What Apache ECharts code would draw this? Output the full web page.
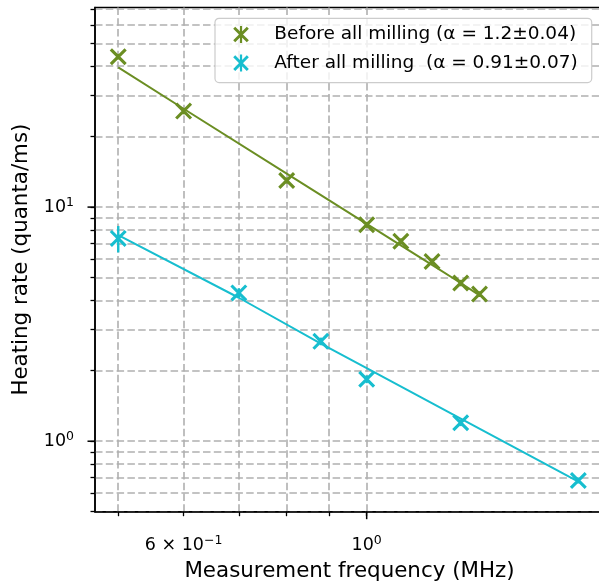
<!DOCTYPE html>
<html><head><meta charset="utf-8">
<script src="https://cdn.jsdelivr.net/npm/echarts@6/dist/echarts.min.js"></script>
<style>html,body{margin:0;padding:0;background:#fff}#c{width:599px;height:582px}</style>
</head><body><div id="c"></div>
<script>
// ---- data ----
const freqBefore = [0.5, 0.6, 0.8, 1.0, 1.1, 1.2, 1.3, 1.37];
const rateBefore = [43.9, 25.7, 13.0, 8.4, 7.15, 5.86, 4.74, 4.25];
const errBefore  = [1.2, 0.8, 0.4, 0.25, 0.2, 0.15, 0.15, 0.12];
const fitBefore  = [39.5, 26.3, 13.9, 8.48, 6.86, 5.66, 4.74, 4.2];

const freqAfter = [0.5, 0.7, 0.88, 1.0, 1.3, 1.805];
const rateAfter = [7.35, 4.3, 2.67, 1.84, 1.2, 0.68];
const errAfter  = [0.95, 0.2, 0.1, 0.07, 0.04, 0.02];
const fitAfter  = [7.59, 4.1, 2.61, 2.05, 1.25, 0.672];

const seriesNames = ['Before all milling (α = 1.2±0.04)', 'After all milling  (α = 0.91±0.07)'];

const xTickValues = [0.5, 0.6, 0.7, 0.8, 0.9, 1.0];
const xMajorTicks = [1.0];
const xLabelValues = [0.6, 1.0];
const xLabelMantissa = ['6 × 10', '10'];
const xLabelExponent = ['−1', '0'];

const yTickValues = [0.5, 0.6, 0.7, 0.8, 0.9, 1, 2, 3, 4, 5, 6, 7, 8, 9, 10, 20, 30, 40, 50, 60, 70];
const yMajorTicks = [1, 10];
const yLabelValues = [1, 10];
const yLabelMantissa = ['10', '10'];
const yLabelExponent = ['0', '1'];

const xMin = 0.4686, xMax = 1.939;
const yMin = 0.5, yMax = 71.2;

// ---- styling ----
const FONT = 'DejaVu Sans';
const colors = ['#6b8e23', '#17becf'];
const xPath = 'path://M0.8,3.2L3.2,0.8L19.2,16.8L16.8,19.2Z M16.8,0.8L19.2,3.2L3.2,19.2L0.8,16.8Z';
const starPath = 'path://M0.8,3.2L3.2,0.8L19.2,16.8L16.8,19.2Z M16.8,0.8L19.2,3.2L3.2,19.2L0.8,16.8Z M8.7,0L11.3,0L11.3,20L8.7,20Z';

function pairs(xs, ys) { return xs.map((x, i) => [x, ys[i]]); }
function errData(xs, ys, es) { return xs.map((x, i) => [x, ys[i] - es[i], ys[i] + es[i]]); }

function labelFmt(values, mant, exp) {
  return function (v) {
    for (let i = 0; i < values.length; i++) {
      if (Math.abs(v - values[i]) < 1e-9) return '{m|' + mant[i] + '}{e|' + exp[i] + '}';
    }
    return '';
  };
}
const rich = {
  m: { fontFamily: FONT, fontSize: 17.5, color: '#000', lineHeight: 22 },
  e: { fontFamily: FONT, fontSize: 12.5, color: '#000', lineHeight: 12, verticalAlign: 'top' }
};

function errSeries(data, color) {
  return {
    type: 'custom', data: data, clip: false, z: 4, silent: true,
    renderItem: function (params, api) {
      const a = api.coord([api.value(0), api.value(1)]);
      const b = api.coord([api.value(0), api.value(2)]);
      return { type: 'line', shape: { x1: a[0], y1: a[1], x2: b[0], y2: b[1] },
               style: { stroke: color, lineWidth: 2.4 } };
    }
  };
}

const option = {
  animation: false,
  backgroundColor: '#fff',
  grid: { left: 95, top: 7.5, right: -5, bottom: 70.3, show: true, borderColor: '#000', borderWidth: 1.5,
          backgroundColor: 'transparent', containLabel: false, outerBoundsMode: 'none' },
  legend: {
    orient: 'vertical', left: 215, top: 18.3,
    padding: [6.2, 14, 9.5, 18.2],
    itemWidth: 56.6, itemHeight: 17, itemGap: 8.6,
    backgroundColor: 'rgba(255,255,255,0.8)', borderColor: '#cccccc', borderWidth: 1.2, borderRadius: 4,
    textStyle: { fontFamily: FONT, fontSize: 18.5, color: '#000', lineHeight: 20 },
    data: [{ name: seriesNames[0], icon: starPath }, { name: seriesNames[1], icon: starPath }]
  },
  xAxis: {
    type: 'log', logBase: 10, min: xMin, max: xMax,
    name: 'Measurement frequency (MHz)', nameLocation: 'middle', nameGap: 49,
    nameTextStyle: { fontFamily: FONT, fontSize: 21.4, color: '#000' },
    axisLine: { show: true, lineStyle: { color: '#000', width: 1.5 } },
    axisTick: { show: true, customValues: xTickValues, length: 4.5, lineStyle: { color: '#000', width: 1.3 } },
    axisLabel: { show: true, customValues: xLabelValues, margin: 23,
                 formatter: labelFmt(xLabelValues, xLabelMantissa, xLabelExponent), rich: rich },
    splitLine: { show: true, lineStyle: { color: '#b0b0b0', width: 1.6, type: [7.5, 3.3] } },
    minorTick: { show: false }, minorSplitLine: { show: false }
  },
  yAxis: {
    type: 'log', logBase: 10, min: yMin, max: yMax,
    name: 'Heating rate (quanta/ms)', nameLocation: 'middle', nameGap: 63.5,
    nameTextStyle: { fontFamily: FONT, fontSize: 21.4, color: '#000' },
    axisLine: { show: true, lineStyle: { color: '#000', width: 1.5 } },
    axisTick: { show: true, customValues: yTickValues, length: 4.5, lineStyle: { color: '#000', width: 1.3 } },
    axisLabel: { show: true, customValues: yLabelValues, margin: 21,
                 formatter: labelFmt(yLabelValues, yLabelMantissa, yLabelExponent), rich: rich },
    splitLine: { show: true, lineStyle: { color: '#b0b0b0', width: 1.6, type: [7.5, 3.3] } },
    minorTick: { show: false }, minorSplitLine: { show: false }
  },
  series: [
    { type: 'line', data: pairs(freqBefore, fitBefore), showSymbol: false, symbol: 'none',
      lineStyle: { color: colors[0], width: 2 }, z: 3, silent: true },
    { type: 'line', data: pairs(freqAfter, fitAfter), showSymbol: false, symbol: 'none',
      lineStyle: { color: colors[1], width: 2 }, z: 3, silent: true },
    errSeries(errData(freqBefore, rateBefore, errBefore), colors[0]),
    errSeries(errData(freqAfter, rateAfter, errAfter), colors[1]),
    { name: seriesNames[0], type: 'scatter', data: pairs(freqBefore, rateBefore), symbol: xPath, symbolSize: 17,
      itemStyle: { color: colors[0], opacity: 1 }, z: 5 },
    { name: seriesNames[1], type: 'scatter', data: pairs(freqAfter, rateAfter), symbol: xPath, symbolSize: 17,
      itemStyle: { color: colors[1], opacity: 1 }, z: 5 },
    { type: 'custom', clip: false, z: 6, silent: true, data: xMajorTicks.map(v => [v, yMin]),
      renderItem: function (params, api) {
        const p = api.coord([api.value(0), api.value(1)]);
        return { type: 'line', shape: { x1: p[0], y1: p[1], x2: p[0], y2: p[1] + 7.5 },
                 style: { stroke: '#000', lineWidth: 1.5 } };
      } },
    { type: 'custom', clip: false, z: 6, silent: true, data: yMajorTicks.map(v => [xMin, v]),
      renderItem: function (params, api) {
        const p = api.coord([api.value(0), api.value(1)]);
        return { type: 'line', shape: { x1: p[0], y1: p[1], x2: p[0] - 7.5, y2: p[1] },
                 style: { stroke: '#000', lineWidth: 1.5 } };
      } }
  ]
};

const chart = echarts.init(document.getElementById('c'), null, { renderer: 'canvas' });
chart.setOption(option);
</script>
</body></html>
